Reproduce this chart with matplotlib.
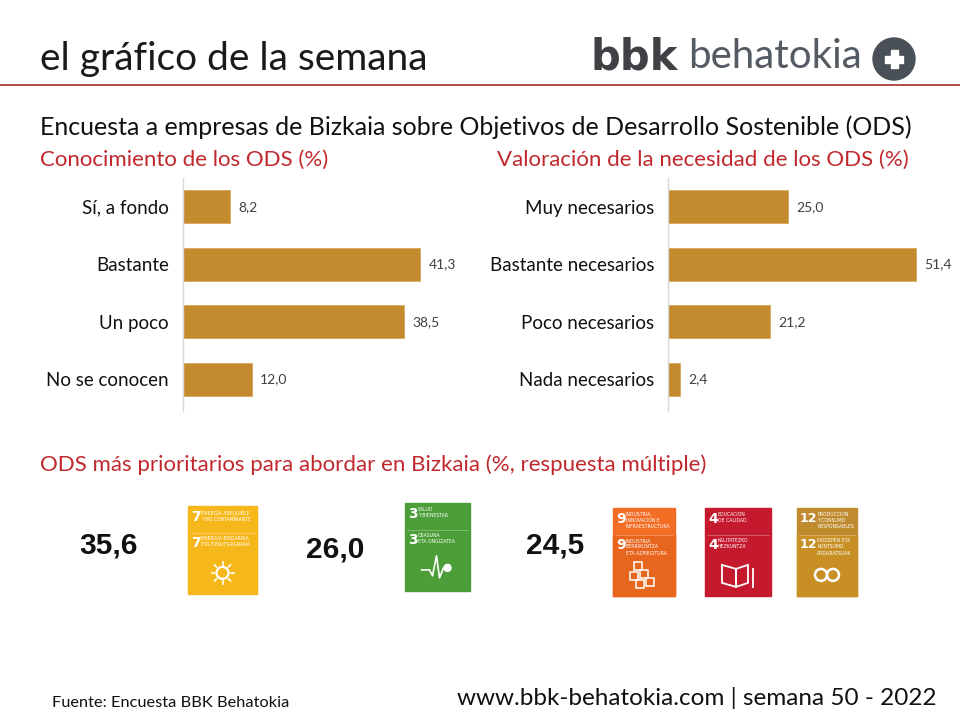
import matplotlib
matplotlib.use("Agg")
import matplotlib.pyplot as plt
from matplotlib.patches import Rectangle, Circle, Polygon

# --- data ---
KNOW_LABELS = ["Sí, a fondo", "Bastante", "Un poco", "No se conocen"]
KNOW_VALUES = [8.2, 41.3, 38.5, 12.0]

NEED_LABELS = ["Muy necesarios", "Bastante necesarios", "Poco necesarios", "Nada necesarios"]
NEED_VALUES = [25.0, 51.4, 21.2, 2.4]

PRIORITY_VALUES = [35.6, 26.0, 24.5]
PRIORITY_GOALS = [["7"], ["3"], ["9", "4", "12"]]

SDG_INFO = {
    "7": ("#F6B71B", None, ["ENERGÍA ASEQUIBLE", "Y NO CONTAMINANTE"], ["ENERGIA BISGARRIA", "ETA EZKUTSAGARRIA"]),
    "3": ("#4C9F38", None, ["SALUD", "Y BIENESTAR"], ["OSASUNA", "ETA ONGIZATEA"]),
    "9": ("#F36D25", "#E8651E", ["INDUSTRIA,", "INNOVACIÓN E", "INFRAESTRUCTURA"], ["INDUSTRIA,", "BERRIKUNTZA", "ETA AZPIEGITURA"]),
    "4": ("#C5192D", None, ["EDUCACIÓN", "DE CALIDAD"], ["KALITATEZKO", "HEZKUNTZA"]),
    "12": ("#BF8B2E", "#C88F25", ["PRODUCCIÓN", "Y CONSUMO", "RESPONSABLES"], ["EKOIZPEN ETA", "KONTSUMO", "ARDURATSUAK"]),
}

BAR_COLOR = "#C48A2E"
RED = "#C0282D"
W, H = 960, 720
COND = ["DejaVu Sans Condensed", "DejaVu Sans"]

plt.rcParams["font.family"] = ["Lato", "DejaVu Sans"]

fig = plt.figure(figsize=(W / 100, H / 100), dpi=100)
fig.patch.set_facecolor("white")

# pixel overlay for all the page furniture
ov = fig.add_axes([0, 0, 1, 1])
ov.set_xlim(0, W)
ov.set_ylim(H, 0)
ov.axis("off")


def px_axes(x0, y0, x1, y1):
    return fig.add_axes([x0 / W, 1 - y1 / H, (x1 - x0) / W, (y1 - y0) / H])


# header
ov.text(40, 59, "el gráfico de la semana", fontsize=28, color="#1A1A1A",
        va="center", ha="left")
ov.plot([0, W], [85, 85], color="#A3262B", lw=1.2)
ov.text(591, 57, "bbk", fontsize=30, fontweight="black", color="#3F4144",
        va="center", ha="left", family=["DejaVu Sans"])
ov.text(688, 56, "behatokia", fontsize=29, color="#555B62",
        va="center", ha="left")
ov.add_patch(Circle((894, 59), 21, color="#4A5057"))
ov.add_patch(Rectangle((885, 55.5), 18, 7, color="white"))
ov.add_patch(Rectangle((890.5, 50), 7, 18, color="white"))

ov.text(40, 127, "Encuesta a empresas de Bizkaia sobre Objetivos de Desarrollo Sostenible (ODS)",
        fontsize=18, color="#111111", va="center", ha="left")
ov.text(40, 160, "Conocimiento de los ODS (%)", fontsize=16, color=RED, va="center", ha="left")
ov.text(497, 160, "Valoración de la necesidad de los ODS (%)", fontsize=16, color=RED,
        va="center", ha="left")


def bar_panel(ax, labels, values, xmax):
    ypos = list(range(len(labels)))
    ax.barh(ypos, values, height=0.57, color=BAR_COLOR, edgecolor="#D9A75A", linewidth=0.6)
    ax.set_xlim(0, xmax)
    ax.set_ylim(len(labels) - 0.45, -0.5)
    ax.set_yticks(ypos)
    ax.set_yticklabels(labels, fontsize=13.5, color="#111111")
    ax.tick_params(axis="y", length=0, pad=10)
    ax.set_xticks([])
    for s in ["top", "right", "bottom"]:
        ax.spines[s].set_visible(False)
    ax.spines["left"].set_color("#D9D9D9")
    ax.spines["left"].set_linewidth(1)
    for y, v in zip(ypos, values):
        ax.annotate(f"{v:.1f}".replace(".", ","), (v, y), xytext=(6, 0),
                    textcoords="offset points", va="center", ha="left",
                    fontsize=10, color="#404040")
    ax.patch.set_alpha(0)


ax1 = px_axes(183, 178, 470, 411)
bar_panel(ax1, KNOW_LABELS, KNOW_VALUES, 50)
ax2 = px_axes(668, 178, 957, 411)
bar_panel(ax2, NEED_LABELS, NEED_VALUES, 60)

# priorities section
ov.text(40, 465, "ODS más prioritarios para abordar en Bizkaia (%, respuesta múltiple)",
        fontsize=16, color=RED, va="center", ha="left")


def draw_sdg(x, y, w, h, goal):
    col, low_col, top_lines, bot_lines = SDG_INFO[goal]
    ov.add_patch(Rectangle((x, y), w, h, color=col))
    split = y + h * 0.31
    if low_col:
        ov.add_patch(Rectangle((x, split), w, h - (split - y), color=low_col))
    ov.plot([x + 2, x + w - 2], [split, split], color="white", lw=0.4, alpha=0.5)
    nx = x + 3
    two = len(goal) > 1
    tx = nx + (17 if two else 10)
    for ty, lines in [(y + 4, top_lines), (split + 3, bot_lines)]:
        ov.text(nx, ty, goal, fontsize=9 if two else 10, fontweight="bold", color="white",
                va="top", ha="left", family=COND)
        ov.text(tx, ty, "\n".join(lines), fontsize=3.3, color="white", va="top",
                ha="left", linespacing=1.3, family=COND)
    # simple pictograms
    cx, cy = x + w / 2, y + h * 0.76
    if goal == "7":
        ov.add_patch(Circle((cx, cy), 6, fill=False, ec="white", lw=1.6))
        for dx, dy in [(0, -11), (0, 11), (-11, 0), (11, 0), (-8, -8), (8, -8), (-8, 8), (8, 8)]:
            ov.plot([cx + dx * 0.75, cx + dx], [cy + dy * 0.75, cy + dy], color="white", lw=1.2)
    elif goal == "3":
        ov.plot([cx - 16, cx - 8, cx - 5, cx - 1, cx + 2, cx + 6],
                [cy, cy, cy + 6, cy - 14, cy + 8, cy - 2], color="white", lw=1.2)
        ov.add_patch(Circle((cx + 10, cy - 2), 3.5, color="white"))
    elif goal == "9":
        for dx, dy in [(-6, -8), (0, 0), (-10, 2), (-4, 10), (6, 8)]:
            ov.add_patch(Rectangle((cx + dx - 4, cy + dy - 5), 8, 8, fill=False, ec="white", lw=1.1))
    elif goal == "4":
        ov.add_patch(Polygon([(cx - 16, cy - 10), (cx - 2, cy - 6), (cx - 2, cy + 12),
                              (cx - 16, cy + 8)], fill=False, ec="white", lw=1.3))
        ov.add_patch(Polygon([(cx + 10, cy - 10), (cx - 2, cy - 6), (cx - 2, cy + 12),
                              (cx + 10, cy + 8)], fill=False, ec="white", lw=1.3))
        ov.plot([cx + 15, cx + 15], [cy - 6, cy + 12], color="white", lw=1.3)
    elif goal == "12":
        ov.add_patch(Circle((cx - 6, cy), 6, fill=False, ec="white", lw=1.8))
        ov.add_patch(Circle((cx + 6, cy), 6, fill=False, ec="white", lw=1.8))


num_x = [109, 335, 555]
num_y = [545, 549, 545]
icon_spots = [[(188, 506, 69, 88)], [(405, 503, 65, 88)],
              [(613, 508, 62, 88), (705, 508, 66, 88), (797, 508, 60, 88)]]
for val, goals, nx, ny, spots in zip(PRIORITY_VALUES, PRIORITY_GOALS, num_x, num_y, icon_spots):
    ov.text(nx, ny, f"{val:.1f}".replace(".", ","), fontsize=21.5, fontweight="bold",
            color="#111111", ha="center", va="center",
            family=["Liberation Sans", "DejaVu Sans"])
    for g, (x, y, w, h) in zip(goals, spots):
        draw_sdg(x, y, w, h, g)

# footer
ov.text(52, 703, "Fuente: Encuesta BBK Behatokia", fontsize=11.8, color="#111111",
        va="center", ha="left")
ov.text(937, 698, "www.bbk-behatokia.com | semana 50 - 2022", fontsize=17.5, color="#111111",
        va="center", ha="right")

fig.savefig("out.png", dpi=100, facecolor="white")
